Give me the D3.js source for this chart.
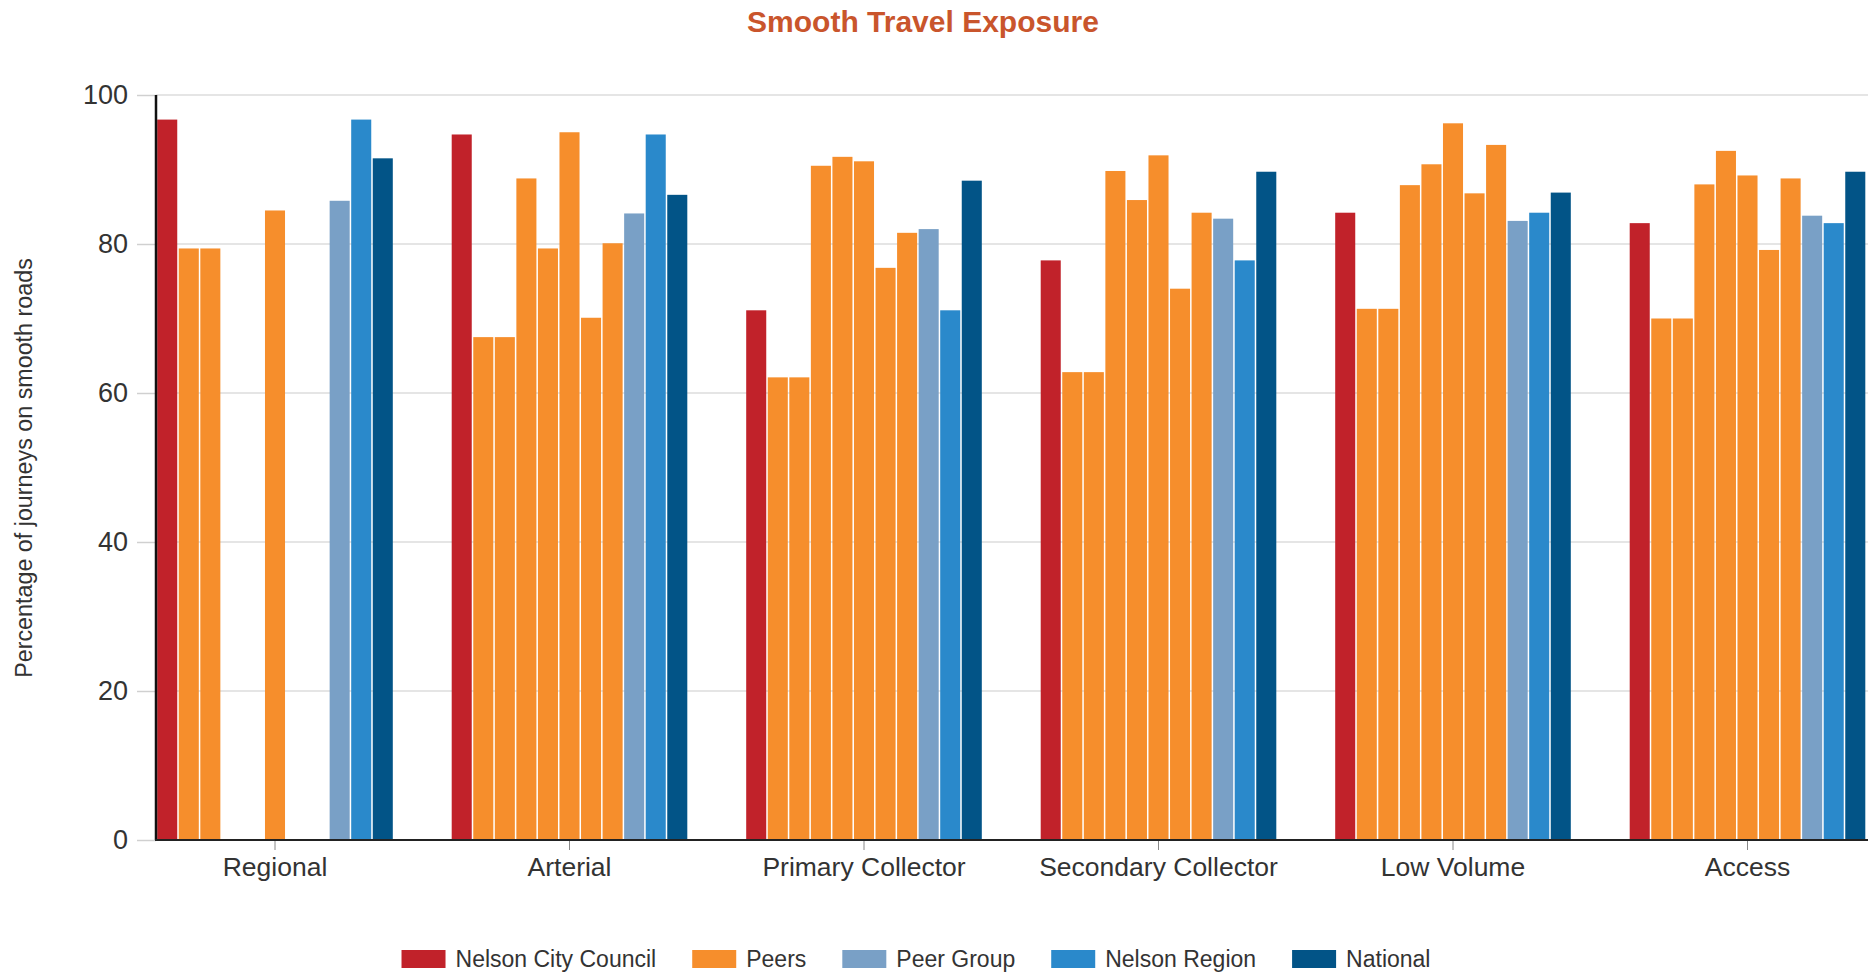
<!DOCTYPE html>
<html>
<head>
<meta charset="utf-8">
<script src="https://cdn.jsdelivr.net/npm/d3@7/dist/d3.min.js"></script>
<style>
  html, body { margin: 0; padding: 0; background: #fff; }
  svg { display: block; font-family: "Liberation Sans", Arial, sans-serif; }
</style>
</head>
<body>
<svg id="chart" width="1868" height="975"></svg>
<script>
// Road classes on the x axis
const categories = ["Regional", "Arterial", "Primary Collector", "Secondary Collector", "Low Volume", "Access"];

// Percentage of journeys on smooth roads, one value per road class
const nelsonCityCouncil = [96.7, 94.7, 71.1, 77.8, 84.2, 82.8];
// Seven peer councils, each a row across the road classes (null = no data)
const peers = [
  [79.4, 67.5, 62.1, 62.8, 71.3, 70.0],
  [79.4, 67.5, 62.1, 62.8, 71.3, 70.0],
  [null, 88.8, 90.5, 89.8, 87.9, 88.0],
  [null, 79.4, 91.7, 85.9, 90.7, 92.5],
  [84.5, 95.0, 91.1, 91.9, 96.2, 89.2],
  [null, 70.1, 76.8, 74.0, 86.8, 79.2],
  [null, 80.1, 81.5, 84.2, 93.3, 88.8]
];
const peerGroup = [85.8, 84.1, 82.0, 83.4, 83.1, 83.8];
const nelsonRegion = [96.7, 94.7, 71.1, 77.8, 84.2, 82.8];
const national = [91.5, 86.6, 88.5, 89.7, 86.9, 89.7];

const yTicks = [0, 20, 40, 60, 80, 100];

const legendNames = ["Nelson City Council", "Peers", "Peer Group", "Nelson Region", "National"];
const legendColors = ["#c1222a", "#f68e2c", "#79a0c6", "#2a89cb", "#025487"];

// Bar series in drawing order inside each category
const seriesList = [
  { values: nelsonCityCouncil, color: legendColors[0] },
  ...peers.map(p => ({ values: p, color: legendColors[1] })),
  { values: peerGroup, color: legendColors[2] },
  { values: nelsonRegion, color: legendColors[3] },
  { values: national, color: legendColors[4] }
];

const svg = d3.select("#chart");
const W = 1868;
const plotLeft = 156, plotTop = 95, plotBottom = 840;

const y = d3.scaleLinear().domain([0, 100]).range([plotBottom, plotTop]);

const x0 = d3.scaleBand()
  .domain(categories)
  .range([127.75, 1894.75])
  .paddingInner(0.2)
  .paddingOuter(0.1);

const x1 = d3.scaleBand()
  .domain(d3.range(seriesList.length))
  .range([0, x0.bandwidth()])
  .paddingInner(0.07);

// Title
svg.append("text")
  .attr("x", 923).attr("y", 32)
  .attr("text-anchor", "middle")
  .attr("font-size", 30).attr("font-weight", "bold")
  .attr("fill", "#c9552c")
  .text("Smooth Travel Exposure");

// Horizontal gridlines
svg.append("g")
  .selectAll("line")
  .data(yTicks)
  .join("line")
  .attr("x1", plotLeft).attr("x2", W)
  .attr("y1", d => y(d)).attr("y2", d => y(d))
  .attr("stroke", "#dcdcdc").attr("stroke-width", 1.5);

// Bars
const barData = [];
categories.forEach((c, ci) => {
  seriesList.forEach((s, si) => {
    const v = s.values[ci];
    if (v != null) barData.push({ c, si, v, color: s.color });
  });
});

svg.append("g")
  .selectAll("rect")
  .data(barData)
  .join("rect")
  .attr("x", d => x0(d.c) + x1(d.si))
  .attr("width", x1.bandwidth())
  .attr("y", d => y(d.v))
  .attr("height", d => y(0) - y(d.v))
  .attr("fill", d => d.color);

// Y axis
const yAxis = svg.append("g")
  .attr("transform", `translate(${plotLeft},0)`)
  .call(d3.axisLeft(y).tickValues(yTicks).tickSize(19).tickPadding(9).tickFormat(d3.format("d")));
yAxis.select(".domain").remove();
yAxis.selectAll(".tick line").attr("stroke", "#d0d0d0").attr("stroke-width", 1.5);
yAxis.selectAll(".tick text")
  .attr("font-size", 27).attr("fill", "#333")
  .attr("font-family", "Liberation Sans, Arial, sans-serif");

svg.append("line")
  .attr("x1", plotLeft).attr("x2", plotLeft)
  .attr("y1", plotTop).attr("y2", plotBottom)
  .attr("stroke", "#111").attr("stroke-width", 2.5);

// X axis
const xAxis = svg.append("g")
  .attr("transform", `translate(0,${plotBottom})`)
  .call(d3.axisBottom(x0).tickSize(10).tickPadding(7.5));
xAxis.select(".domain").remove();
xAxis.selectAll(".tick line").attr("stroke", "#888").attr("stroke-width", 1);
xAxis.selectAll(".tick text")
  .attr("font-size", 26.5).attr("fill", "#333")
  .attr("font-family", "Liberation Sans, Arial, sans-serif");

svg.append("line")
  .attr("x1", plotLeft - 1).attr("x2", W)
  .attr("y1", plotBottom).attr("y2", plotBottom)
  .attr("stroke", "#222").attr("stroke-width", 2);

// Y axis title
svg.append("text")
  .attr("transform", "translate(24,468) rotate(-90)")
  .attr("text-anchor", "middle")
  .attr("dominant-baseline", "central")
  .attr("font-size", 23.3).attr("fill", "#333")
  .text("Percentage of journeys on smooth roads");

// Legend, laid out from measured label widths and centred
const legend = svg.append("g");
const swW = 44, swH = 18, swGap = 10, itemGap = 36;
const items = legendNames.map((name, i) => {
  const g = legend.append("g");
  g.append("rect").attr("width", swW).attr("height", swH)
    .attr("y", -swH / 2).attr("fill", legendColors[i]);
  const t = g.append("text")
    .attr("x", swW + swGap).attr("y", 0)
    .attr("dominant-baseline", "central")
    .attr("font-size", 23).attr("fill", "#333")
    .text(name);
  return { g, w: swW + swGap + t.node().getComputedTextLength() };
});
const total = d3.sum(items, d => d.w) + itemGap * (items.length - 1);
let lx = 916 - total / 2;
items.forEach(it => {
  it.g.attr("transform", `translate(${lx},959)`);
  lx += it.w + itemGap;
});
</script>
</body>
</html>
